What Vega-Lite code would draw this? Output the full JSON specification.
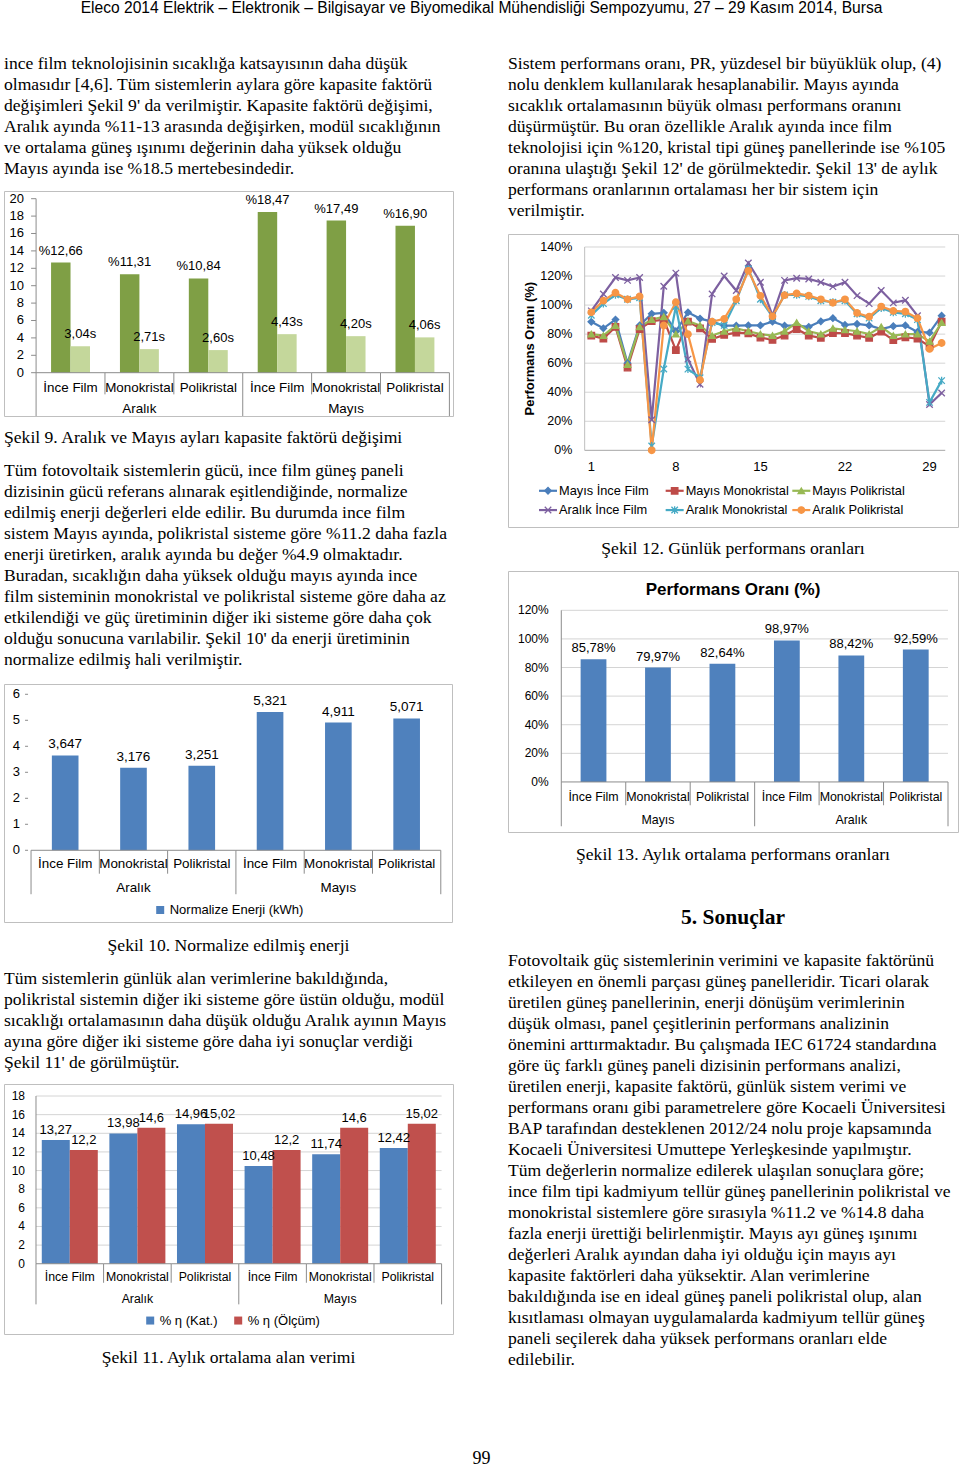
{
"padding": {"left": 3, "top": 0, "right": 2, "bottom": 0},
"background": "#ffffff",
"config": {
  "view": {"stroke": null},
  "font": "Liberation Sans",
  "legend": {"labelFont": "Liberation Sans", "labelColor": "#000000", "labelFontSize": 13}
},
"datasets": {
  "cats": [
    {"k":"A1","ay":"Aralık","tip":"İnce Film"},
    {"k":"A2","ay":"Aralık","tip":"Monokristal"},
    {"k":"A3","ay":"Aralık","tip":"Polikristal"},
    {"k":"M1","ay":"Mayıs","tip":"İnce Film"},
    {"k":"M2","ay":"Mayıs","tip":"Monokristal"},
    {"k":"M3","ay":"Mayıs","tip":"Polikristal"}
  ],
  "d9": [
    {"k":"A1","seri":"kf","v":12.66,"lbl":"%12,66"},
    {"k":"A1","seri":"s","v":3.04,"lbl":"3,04s"},
    {"k":"A2","seri":"kf","v":11.31,"lbl":"%11,31"},
    {"k":"A2","seri":"s","v":2.71,"lbl":"2,71s"},
    {"k":"A3","seri":"kf","v":10.84,"lbl":"%10,84"},
    {"k":"A3","seri":"s","v":2.60,"lbl":"2,60s"},
    {"k":"M1","seri":"kf","v":18.47,"lbl":"%18,47"},
    {"k":"M1","seri":"s","v":4.43,"lbl":"4,43s"},
    {"k":"M2","seri":"kf","v":17.49,"lbl":"%17,49"},
    {"k":"M2","seri":"s","v":4.20,"lbl":"4,20s"},
    {"k":"M3","seri":"kf","v":16.90,"lbl":"%16,90"},
    {"k":"M3","seri":"s","v":4.06,"lbl":"4,06s"}
  ],
  "t9": [{"v":0,"l":"0"},{"v":2,"l":"2"},{"v":4,"l":"4"},{"v":6,"l":"6"},{"v":8,"l":"8"},{"v":10,"l":"10"},{"v":12,"l":"12"},{"v":14,"l":"14"},{"v":16,"l":"16"},{"v":18,"l":"18"},{"v":20,"l":"20"}],
  "d10": [
    {"k":"A1","seri":"Normalize Enerji (kWh)","v":3.647,"lbl":"3,647"},
    {"k":"A2","seri":"Normalize Enerji (kWh)","v":3.176,"lbl":"3,176"},
    {"k":"A3","seri":"Normalize Enerji (kWh)","v":3.251,"lbl":"3,251"},
    {"k":"M1","seri":"Normalize Enerji (kWh)","v":5.321,"lbl":"5,321"},
    {"k":"M2","seri":"Normalize Enerji (kWh)","v":4.911,"lbl":"4,911"},
    {"k":"M3","seri":"Normalize Enerji (kWh)","v":5.071,"lbl":"5,071"}
  ],
  "t10": [{"v":0,"l":"0"},{"v":1,"l":"1"},{"v":2,"l":"2"},{"v":3,"l":"3"},{"v":4,"l":"4"},{"v":5,"l":"5"},{"v":6,"l":"6"}],
  "d11": [
    {"k":"A1","seri":"% η (Kat.)","v":13.27,"lbl":"13,27"},
    {"k":"A1","seri":"% η (Ölçüm)","v":12.2,"lbl":"12,2"},
    {"k":"A2","seri":"% η (Kat.)","v":13.98,"lbl":"13,98"},
    {"k":"A2","seri":"% η (Ölçüm)","v":14.6,"lbl":"14,6"},
    {"k":"A3","seri":"% η (Kat.)","v":14.96,"lbl":"14,96"},
    {"k":"A3","seri":"% η (Ölçüm)","v":15.02,"lbl":"15,02"},
    {"k":"M1","seri":"% η (Kat.)","v":10.48,"lbl":"10,48"},
    {"k":"M1","seri":"% η (Ölçüm)","v":12.2,"lbl":"12,2"},
    {"k":"M2","seri":"% η (Kat.)","v":11.74,"lbl":"11,74"},
    {"k":"M2","seri":"% η (Ölçüm)","v":14.6,"lbl":"14,6"},
    {"k":"M3","seri":"% η (Kat.)","v":12.42,"lbl":"12,42"},
    {"k":"M3","seri":"% η (Ölçüm)","v":15.02,"lbl":"15,02"}
  ],
  "g11": [{"v":0,"l":"0"},{"v":2,"l":"2"},{"v":4,"l":"4"},{"v":6,"l":"6"},{"v":8,"l":"8"},{"v":10,"l":"10"},{"v":12,"l":"12"},{"v":14,"l":"14"},{"v":16,"l":"16"},{"v":18,"l":"18"}],
  "d13": [
    {"k":"M1","v":85.78,"lbl":"85,78%"},
    {"k":"M2","v":79.97,"lbl":"79,97%"},
    {"k":"M3","v":82.64,"lbl":"82,64%"},
    {"k":"A1","v":98.97,"lbl":"98,97%"},
    {"k":"A2","v":88.42,"lbl":"88,42%"},
    {"k":"A3","v":92.59,"lbl":"92,59%"}
  ],
  "g13": [{"v":0,"l":"0%"},{"v":20,"l":"20%"},{"v":40,"l":"40%"},{"v":60,"l":"60%"},{"v":80,"l":"80%"},{"v":100,"l":"100%"},{"v":120,"l":"120%"}],
  "g12": [{"v":0,"l":"0%"},{"v":20,"l":"20%"},{"v":40,"l":"40%"},{"v":60,"l":"60%"},{"v":80,"l":"80%"},{"v":100,"l":"100%"},{"v":120,"l":"120%"},{"v":140,"l":"140%"}],
  "x12": [{"d":1,"l":"1"},{"d":8,"l":"8"},{"d":15,"l":"15"},{"d":22,"l":"22"},{"d":29,"l":"29"}],
  "leg12": [
    {"s":"Mayıs İnce Film","ay":"Mayıs","tip":"İnce Film"},
    {"s":"Mayıs Monokristal","ay":"Mayıs","tip":"Monokristal"},
    {"s":"Mayıs Polikristal","ay":"Mayıs","tip":"Polikristal"},
    {"s":"Aralık İnce Film","ay":"Aralık","tip":"İnce Film"},
    {"s":"Aralık Monokristal","ay":"Aralık","tip":"Monokristal"},
    {"s":"Aralık Polikristal","ay":"Aralık","tip":"Polikristal"}
  ],
  "d12": [
    {"d":1,"s":"Mayıs İnce Film","v":88.5},{"d":2,"s":"Mayıs İnce Film","v":84},{"d":3,"s":"Mayıs İnce Film","v":90},{"d":4,"s":"Mayıs İnce Film","v":60},{"d":5,"s":"Mayıs İnce Film","v":86},{"d":6,"s":"Mayıs İnce Film","v":94},{"d":7,"s":"Mayıs İnce Film","v":94.7},{"d":8,"s":"Mayıs İnce Film","v":82},{"d":9,"s":"Mayıs İnce Film","v":95},{"d":10,"s":"Mayıs İnce Film","v":90.7},
    {"d":11,"s":"Mayıs İnce Film","v":88.6},{"d":12,"s":"Mayıs İnce Film","v":85.8},{"d":13,"s":"Mayıs İnce Film","v":85.8},{"d":14,"s":"Mayıs İnce Film","v":86},{"d":15,"s":"Mayıs İnce Film","v":86},{"d":16,"s":"Mayıs İnce Film","v":88.6},{"d":17,"s":"Mayıs İnce Film","v":85.8},{"d":18,"s":"Mayıs İnce Film","v":85.8},{"d":19,"s":"Mayıs İnce Film","v":85},{"d":20,"s":"Mayıs İnce Film","v":88.8},
    {"d":21,"s":"Mayıs İnce Film","v":91},{"d":22,"s":"Mayıs İnce Film","v":86.3},{"d":23,"s":"Mayıs İnce Film","v":87},{"d":24,"s":"Mayıs İnce Film","v":86},{"d":25,"s":"Mayıs İnce Film","v":83.5},{"d":26,"s":"Mayıs İnce Film","v":85.5},{"d":27,"s":"Mayıs İnce Film","v":86},{"d":28,"s":"Mayıs İnce Film","v":81.5},{"d":29,"s":"Mayıs İnce Film","v":81},{"d":30,"s":"Mayıs İnce Film","v":92.7},
    {"d":1,"s":"Mayıs Monokristal","v":79},{"d":2,"s":"Mayıs Monokristal","v":77},{"d":3,"s":"Mayıs Monokristal","v":85},{"d":4,"s":"Mayıs Monokristal","v":57},{"d":5,"s":"Mayıs Monokristal","v":83.5},{"d":6,"s":"Mayıs Monokristal","v":89},{"d":7,"s":"Mayıs Monokristal","v":90},{"d":8,"s":"Mayıs Monokristal","v":69},{"d":9,"s":"Mayıs Monokristal","v":88.6},{"d":10,"s":"Mayıs Monokristal","v":84},
    {"d":11,"s":"Mayıs Monokristal","v":76.7},{"d":12,"s":"Mayıs Monokristal","v":79.5},{"d":13,"s":"Mayıs Monokristal","v":81},{"d":14,"s":"Mayıs Monokristal","v":80.5},{"d":15,"s":"Mayıs Monokristal","v":77.6},{"d":16,"s":"Mayıs Monokristal","v":76},{"d":17,"s":"Mayıs Monokristal","v":79},{"d":18,"s":"Mayıs Monokristal","v":83.5},{"d":19,"s":"Mayıs Monokristal","v":79},{"d":20,"s":"Mayıs Monokristal","v":77.5},
    {"d":21,"s":"Mayıs Monokristal","v":80.7},{"d":22,"s":"Mayıs Monokristal","v":80.7},{"d":23,"s":"Mayıs Monokristal","v":79},{"d":24,"s":"Mayıs Monokristal","v":77.5},{"d":25,"s":"Mayıs Monokristal","v":81.7},{"d":26,"s":"Mayıs Monokristal","v":75.9},{"d":27,"s":"Mayıs Monokristal","v":77.8},{"d":28,"s":"Mayıs Monokristal","v":77},{"d":29,"s":"Mayıs Monokristal","v":71.6},{"d":30,"s":"Mayıs Monokristal","v":88.6},
    {"d":1,"s":"Mayıs Polikristal","v":80},{"d":2,"s":"Mayıs Polikristal","v":79},{"d":3,"s":"Mayıs Polikristal","v":86},{"d":4,"s":"Mayıs Polikristal","v":59},{"d":5,"s":"Mayıs Polikristal","v":85},{"d":6,"s":"Mayıs Polikristal","v":90},{"d":7,"s":"Mayıs Polikristal","v":92},{"d":8,"s":"Mayıs Polikristal","v":80},{"d":9,"s":"Mayıs Polikristal","v":89},{"d":10,"s":"Mayıs Polikristal","v":86},
    {"d":11,"s":"Mayıs Polikristal","v":79},{"d":12,"s":"Mayıs Polikristal","v":82},{"d":13,"s":"Mayıs Polikristal","v":84},{"d":14,"s":"Mayıs Polikristal","v":82},{"d":15,"s":"Mayıs Polikristal","v":80},{"d":16,"s":"Mayıs Polikristal","v":79},{"d":17,"s":"Mayıs Polikristal","v":82},{"d":18,"s":"Mayıs Polikristal","v":88},{"d":19,"s":"Mayıs Polikristal","v":82},{"d":20,"s":"Mayıs Polikristal","v":80},
    {"d":21,"s":"Mayıs Polikristal","v":84},{"d":22,"s":"Mayıs Polikristal","v":83},{"d":23,"s":"Mayıs Polikristal","v":82},{"d":24,"s":"Mayıs Polikristal","v":80},{"d":25,"s":"Mayıs Polikristal","v":85},{"d":26,"s":"Mayıs Polikristal","v":79},{"d":27,"s":"Mayıs Polikristal","v":80},{"d":28,"s":"Mayıs Polikristal","v":80},{"d":29,"s":"Mayıs Polikristal","v":75},{"d":30,"s":"Mayıs Polikristal","v":88},
    {"d":1,"s":"Aralık İnce Film","v":96},{"d":2,"s":"Aralık İnce Film","v":107.6},{"d":3,"s":"Aralık İnce Film","v":119},{"d":4,"s":"Aralık İnce Film","v":117},{"d":5,"s":"Aralık İnce Film","v":119},{"d":6,"s":"Aralık İnce Film","v":21},{"d":7,"s":"Aralık İnce Film","v":113},{"d":8,"s":"Aralık İnce Film","v":122},{"d":9,"s":"Aralık İnce Film","v":62.8},{"d":10,"s":"Aralık İnce Film","v":45.5},
    {"d":11,"s":"Aralık İnce Film","v":107.7},{"d":12,"s":"Aralık İnce Film","v":120},{"d":13,"s":"Aralık İnce Film","v":110},{"d":14,"s":"Aralık İnce Film","v":129},{"d":15,"s":"Aralık İnce Film","v":115.7},{"d":16,"s":"Aralık İnce Film","v":92.7},{"d":17,"s":"Aralık İnce Film","v":117},{"d":18,"s":"Aralık İnce Film","v":118.5},{"d":19,"s":"Aralık İnce Film","v":118},{"d":20,"s":"Aralık İnce Film","v":115.7},
    {"d":21,"s":"Aralık İnce Film","v":112.7},{"d":22,"s":"Aralık İnce Film","v":115.7},{"d":23,"s":"Aralık İnce Film","v":106.5},{"d":24,"s":"Aralık İnce Film","v":101},{"d":25,"s":"Aralık İnce Film","v":110},{"d":26,"s":"Aralık İnce Film","v":101.5},{"d":27,"s":"Aralık İnce Film","v":103.3},{"d":28,"s":"Aralık İnce Film","v":92.7},{"d":29,"s":"Aralık İnce Film","v":31.6},{"d":30,"s":"Aralık İnce Film","v":39.5},
    {"d":1,"s":"Aralık Monokristal","v":93},{"d":2,"s":"Aralık Monokristal","v":101},{"d":3,"s":"Aralık Monokristal","v":107},{"d":4,"s":"Aralık Monokristal","v":104},{"d":5,"s":"Aralık Monokristal","v":105},{"d":6,"s":"Aralık Monokristal","v":3},{"d":7,"s":"Aralık Monokristal","v":56},{"d":8,"s":"Aralık Monokristal","v":99},{"d":9,"s":"Aralık Monokristal","v":55.9},{"d":10,"s":"Aralık Monokristal","v":50},
    {"d":11,"s":"Aralık Monokristal","v":88},{"d":12,"s":"Aralık Monokristal","v":86},{"d":13,"s":"Aralık Monokristal","v":103},{"d":14,"s":"Aralık Monokristal","v":125},{"d":15,"s":"Aralık Monokristal","v":104},{"d":16,"s":"Aralık Monokristal","v":92},{"d":17,"s":"Aralık Monokristal","v":107},{"d":18,"s":"Aralık Monokristal","v":107},{"d":19,"s":"Aralık Monokristal","v":106},{"d":20,"s":"Aralık Monokristal","v":103},
    {"d":21,"s":"Aralık Monokristal","v":102},{"d":22,"s":"Aralık Monokristal","v":103},{"d":23,"s":"Aralık Monokristal","v":94},{"d":24,"s":"Aralık Monokristal","v":91},{"d":25,"s":"Aralık Monokristal","v":98},{"d":26,"s":"Aralık Monokristal","v":95},{"d":27,"s":"Aralık Monokristal","v":94},{"d":28,"s":"Aralık Monokristal","v":90},{"d":29,"s":"Aralık Monokristal","v":33},{"d":30,"s":"Aralık Monokristal","v":48},
    {"d":1,"s":"Aralık Polikristal","v":95},{"d":2,"s":"Aralık Polikristal","v":103},{"d":3,"s":"Aralık Polikristal","v":108.5},{"d":4,"s":"Aralık Polikristal","v":104},{"d":5,"s":"Aralık Polikristal","v":106},{"d":6,"s":"Aralık Polikristal","v":0},{"d":7,"s":"Aralık Polikristal","v":86},{"d":8,"s":"Aralık Polikristal","v":102},{"d":9,"s":"Aralık Polikristal","v":80},{"d":10,"s":"Aralık Polikristal","v":48.5},
    {"d":11,"s":"Aralık Polikristal","v":88.6},{"d":12,"s":"Aralık Polikristal","v":90.5},{"d":13,"s":"Aralık Polikristal","v":104},{"d":14,"s":"Aralık Polikristal","v":123.6},{"d":15,"s":"Aralık Polikristal","v":106.4},{"d":16,"s":"Aralık Polikristal","v":92.3},{"d":17,"s":"Aralık Polikristal","v":106.8},{"d":18,"s":"Aralık Polikristal","v":108},{"d":19,"s":"Aralık Polikristal","v":106.5},{"d":20,"s":"Aralık Polikristal","v":104},
    {"d":21,"s":"Aralık Polikristal","v":101.6},{"d":22,"s":"Aralık Polikristal","v":104},{"d":23,"s":"Aralık Polikristal","v":94.6},{"d":24,"s":"Aralık Polikristal","v":92},{"d":25,"s":"Aralık Polikristal","v":99},{"d":26,"s":"Aralık Polikristal","v":96},{"d":27,"s":"Aralık Polikristal","v":95.5},{"d":28,"s":"Aralık Polikristal","v":91},{"d":29,"s":"Aralık Polikristal","v":69.8},{"d":30,"s":"Aralık Polikristal","v":73.9}
  ]
},
"spacing": 0,
"resolve": {"scale": {"color": "independent", "xOffset": "independent", "shape": "independent", "stroke": "independent"}, "legend": {"color": "independent", "shape": "independent", "stroke": "independent"}},
"vconcat": [
 {"width": 955, "height": 16,
  "data": {"values": [{"t": "Eleco 2014 Elektrik – Elektronik – Bilgisayar ve Biyomedikal Mühendisliği Sempozyumu, 27 – 29 Kasım 2014, Bursa"}]},
  "mark": {"type": "text", "align": "center", "baseline": "middle", "font": "Liberation Sans", "fontSize": 15.6, "color": "#000000"},
  "encoding": {"text": {"field": "t"}}},
 {"hconcat": [
   {"vconcat": [
     {"width": 449, "height": 174,
      "data": {"values": [
        {"i":0,"t":"ince film teknolojisinin sıcaklığa katsayısının daha düşük"},
        {"i":1,"t":"olmasıdır [4,6]. Tüm sistemlerin aylara göre kapasite faktörü"},
        {"i":2,"t":"değişimleri Şekil 9' da verilmiştir. Kapasite faktörü değişimi,"},
        {"i":3,"t":"Aralık ayında %11-13 arasında değişirken, modül sıcaklığının"},
        {"i":4,"t":"ve ortalama güneş ışınımı değerinin daha yüksek olduğu"},
        {"i":5,"t":"Mayıs ayında ise %18.5 mertebesindedir."}]},
      "mark": {"type": "text", "align": "left", "baseline": "middle", "font": "Liberation Serif", "fontSize": 17.6, "color": "#000000"},
      "encoding": {
        "x": {"datum": 0, "type": "quantitative", "scale": {"domain": [0, 1]}, "axis": null},
        "y": {"field": "i", "type": "quantitative", "scale": {"domain": [-2.238, 6.048], "reverse": true, "nice": false, "zero": false}, "axis": null},
        "text": {"field": "t"}}},
     {"width": 449, "height": 225,
      "view": {"stroke": "#BFBFBF"},
      "layer": [
        {"data": {"name": "d9"}, "mark": {"type": "bar"},
         "encoding": {
           "x": {"field": "k", "type": "nominal", "scale": {"domain": ["A1","A2","A3","M1","M2","M3"], "paddingInner": 0, "paddingOuter": 0.259, "align": 0.899}, "axis": null},
           "xOffset": {"field": "seri", "type": "nominal", "scale": {"domain": ["kf","s"], "paddingInner": 0, "paddingOuter": 0.77}},
           "y": {"field": "v", "type": "quantitative", "scale": {"domain": [-4.977, 20.885], "nice": false, "zero": false}, "axis": null},
           "y2": {"datum": 0},
           "color": {"field": "seri", "type": "nominal", "scale": {"domain": ["kf","s"], "range": ["#7F9F45","#C4D79B"]}, "legend": null}}},
        {"data": {"name": "d9"}, "mark": {"type": "text", "baseline": "bottom", "dy": -5, "font": "Liberation Sans", "fontSize": 13, "color": "#000000"},
         "encoding": {
           "x": {"field": "k", "type": "nominal", "axis": null},
           "xOffset": {"field": "seri", "type": "nominal"},
           "y": {"field": "v", "type": "quantitative", "axis": null},
           "text": {"field": "lbl"}}},
        {"data": {"name": "t9"}, "mark": {"type": "text", "align": "right", "baseline": "middle", "dx": -12, "font": "Liberation Sans", "fontSize": 13, "color": "#000000"},
         "encoding": {"x": {"datum": "A1", "type": "nominal", "bandPosition": 0, "axis": null}, "y": {"field": "v", "type": "quantitative", "axis": null}, "text": {"field": "l"}}},
        {"data": {"name": "t9"}, "mark": {"type": "rule", "color": "#8C8C8C", "xOffset": -5},
         "encoding": {"x": {"datum": "A1", "type": "nominal", "bandPosition": 0, "axis": null}, "x2": {"datum": "A1", "bandPosition": 0}, "y": {"field": "v", "type": "quantitative", "axis": null}}},
        {"data": {"name": "cats"}, "mark": {"type": "rule", "color": "#8C8C8C"},
         "encoding": {"x": {"field": "k", "type": "nominal", "bandPosition": 0, "axis": null}, "x2": {"field": "k", "bandPosition": 1}, "y": {"datum": 0, "axis": null}}},
        {"data": {"name": "cats"}, "transform": [{"filter": {"field": "k", "oneOf": ["A2","A3","M2","M3"]}}], "mark": {"type": "rule", "color": "#8C8C8C"},
         "encoding": {"x": {"field": "k", "type": "nominal", "bandPosition": 0, "axis": null}, "y": {"datum": 0, "axis": null}, "y2": {"datum": -2.49}}},
        {"data": {"name": "cats"}, "transform": [{"filter": {"field": "k", "oneOf": ["A1","M1"]}}], "mark": {"type": "rule", "color": "#8C8C8C"},
         "encoding": {"x": {"field": "k", "type": "nominal", "bandPosition": 0, "axis": null}, "y": {"datum": 0, "axis": null}, "y2": {"datum": -4.977}}},
        {"data": {"name": "cats"}, "transform": [{"filter": {"field": "k", "equal": "M3"}}], "mark": {"type": "rule", "color": "#8C8C8C"},
         "encoding": {"x": {"field": "k", "type": "nominal", "bandPosition": 1, "axis": null}, "y": {"datum": 0, "axis": null}, "y2": {"datum": -4.977}}},
        {"data": {"name": "cats"}, "transform": [{"filter": {"field": "k", "equal": "A1"}}], "mark": {"type": "rule", "color": "#8C8C8C"},
         "encoding": {"x": {"field": "k", "type": "nominal", "bandPosition": 0, "axis": null}, "y": {"datum": 0, "axis": null}, "y2": {"datum": 20}}},
        {"data": {"name": "cats"}, "mark": {"type": "text", "baseline": "middle", "font": "Liberation Sans", "fontSize": 13.4, "color": "#000000"},
         "encoding": {"x": {"field": "k", "type": "nominal", "axis": null}, "y": {"datum": -1.73, "axis": null}, "text": {"field": "tip"}}},
        {"data": {"name": "cats"}, "transform": [{"filter": {"field": "k", "oneOf": ["A2","M2"]}}], "mark": {"type": "text", "baseline": "middle", "font": "Liberation Sans", "fontSize": 13.4, "color": "#000000"},
         "encoding": {"x": {"field": "k", "type": "nominal", "axis": null}, "y": {"datum": -4.14, "axis": null}, "text": {"field": "ay"}}}
      ]},
     {"width": 449, "height": 44,
      "data": {"values": [{"t": "Şekil 9. Aralık ve Mayıs ayları kapasite faktörü değişimi"}]},
      "mark": {"type": "text", "align": "left", "baseline": "middle", "font": "Liberation Serif", "fontSize": 17.6, "color": "#000000"},
      "encoding": {"x": {"datum": 0, "type": "quantitative", "scale": {"domain": [0, 1]}, "axis": null}, "text": {"field": "t"}}},
     {"width": 449, "height": 224,
      "data": {"values": [
        {"i":0,"t":"Tüm fotovoltaik sistemlerin gücü, ince film güneş paneli"},
        {"i":1,"t":"dizisinin gücü referans alınarak eşitlendiğinde, normalize"},
        {"i":2,"t":"edilmiş enerji değerleri elde edilir. Bu durumda ince film"},
        {"i":3,"t":"sistem Mayıs ayında, polikristal sisteme göre %11.2 daha fazla"},
        {"i":4,"t":"enerji üretirken, aralık ayında bu değer %4.9 olmaktadır."},
        {"i":5,"t":"Buradan, sıcaklığın daha yüksek olduğu mayıs ayında ince"},
        {"i":6,"t":"film sisteminin monokristal ve polikristal sisteme göre daha az"},
        {"i":7,"t":"etkilendiği ve güç üretiminin diğer iki sisteme göre daha çok"},
        {"i":8,"t":"olduğu sonucuna varılabilir. Şekil 10' da enerji üretiminin"},
        {"i":9,"t":"normalize edilmiş hali verilmiştir."}]},
      "mark": {"type": "text", "align": "left", "baseline": "middle", "font": "Liberation Serif", "fontSize": 17.6, "color": "#000000"},
      "encoding": {
        "x": {"datum": 0, "type": "quantitative", "scale": {"domain": [0, 1]}, "axis": null},
        "y": {"field": "i", "type": "quantitative", "scale": {"domain": [-0.524, 10.143], "reverse": true, "nice": false, "zero": false}, "axis": null},
        "text": {"field": "t"}}},
     {"width": 448, "height": 238,
      "view": {"stroke": "#BFBFBF"},
      "layer": [
        {"data": {"name": "d10"}, "mark": {"type": "bar", "width": {"band": 0.39}},
         "encoding": {
           "x": {"field": "k", "type": "nominal", "scale": {"domain": ["A1","A2","A3","M1","M2","M3"], "paddingInner": 0, "paddingOuter": 0.28, "align": 0.707}, "axis": null},
           "y": {"field": "v", "type": "quantitative", "scale": {"domain": [-2.758, 6.396], "nice": false, "zero": false}, "axis": null},
           "y2": {"datum": 0},
           "color": {"field": "seri", "type": "nominal", "scale": {"domain": ["Normalize Enerji (kWh)"], "range": ["#4F81BD"]}, "legend": {"orient": "none", "legendX": 149.7, "legendY": 219.5, "title": null, "symbolType": "square", "symbolSize": 64, "symbolStrokeWidth": 0, "labelFontSize": 13, "labelOffset": 3, "padding": 0}}}},
        {"data": {"name": "d10"}, "mark": {"type": "text", "baseline": "bottom", "dy": -4, "font": "Liberation Sans", "fontSize": 13.5, "color": "#000000"},
         "encoding": {"x": {"field": "k", "type": "nominal", "axis": null}, "y": {"field": "v", "type": "quantitative", "axis": null}, "text": {"field": "lbl"}}},
        {"data": {"name": "t10"}, "mark": {"type": "text", "align": "right", "baseline": "middle", "dx": -11, "font": "Liberation Sans", "fontSize": 13, "color": "#000000"},
         "encoding": {"x": {"datum": "A1", "type": "nominal", "bandPosition": 0, "axis": null}, "y": {"field": "v", "type": "quantitative", "axis": null}, "text": {"field": "l"}}},
        {"data": {"name": "t10"}, "mark": {"type": "rule", "color": "#8C8C8C", "xOffset": -6, "x2Offset": -3},
         "encoding": {"x": {"datum": "A1", "type": "nominal", "bandPosition": 0, "axis": null}, "x2": {"datum": "A1", "bandPosition": 0}, "y": {"field": "v", "type": "quantitative", "axis": null}}},
        {"data": {"name": "cats"}, "mark": {"type": "rule", "color": "#8C8C8C"},
         "encoding": {"x": {"field": "k", "type": "nominal", "bandPosition": 0, "axis": null}, "x2": {"field": "k", "bandPosition": 1}, "y": {"datum": 0, "axis": null}}},
        {"data": {"name": "cats"}, "transform": [{"filter": {"field": "k", "oneOf": ["A2","A3","M2","M3"]}}], "mark": {"type": "rule", "color": "#8C8C8C"},
         "encoding": {"x": {"field": "k", "type": "nominal", "bandPosition": 0, "axis": null}, "y": {"datum": 0, "axis": null}, "y2": {"datum": -0.9}}},
        {"data": {"name": "cats"}, "transform": [{"filter": {"field": "k", "oneOf": ["A1","M1"]}}], "mark": {"type": "rule", "color": "#8C8C8C"},
         "encoding": {"x": {"field": "k", "type": "nominal", "bandPosition": 0, "axis": null}, "y": {"datum": 0, "axis": null}, "y2": {"datum": -1.69}}},
        {"data": {"name": "cats"}, "transform": [{"filter": {"field": "k", "equal": "M3"}}], "mark": {"type": "rule", "color": "#8C8C8C"},
         "encoding": {"x": {"field": "k", "type": "nominal", "bandPosition": 1, "axis": null}, "y": {"datum": 0, "axis": null}, "y2": {"datum": -1.69}}},
        {"data": {"name": "cats"}, "mark": {"type": "text", "baseline": "middle", "font": "Liberation Sans", "fontSize": 13.4, "color": "#000000"},
         "encoding": {"x": {"field": "k", "type": "nominal", "axis": null}, "y": {"datum": -0.54, "axis": null}, "text": {"field": "tip"}}},
        {"data": {"name": "cats"}, "transform": [{"filter": {"field": "k", "oneOf": ["A2","M2"]}}], "mark": {"type": "text", "baseline": "middle", "font": "Liberation Sans", "fontSize": 13.4, "color": "#000000"},
         "encoding": {"x": {"field": "k", "type": "nominal", "axis": null}, "y": {"datum": -1.44, "axis": null}, "text": {"field": "ay"}}}
      ]},
     {"width": 449, "height": 48,
      "data": {"values": [{"t": "Şekil 10. Normalize edilmiş enerji"}]},
      "mark": {"type": "text", "align": "center", "baseline": "middle", "font": "Liberation Serif", "fontSize": 17.6, "color": "#000000"},
      "encoding": {"text": {"field": "t"}}},
     {"width": 449, "height": 114,
      "data": {"values": [
        {"i":0,"t":"Tüm sistemlerin günlük alan verimlerine bakıldığında,"},
        {"i":1,"t":"polikristal sistemin diğer iki sisteme göre üstün olduğu, modül"},
        {"i":2,"t":"sıcaklığı ortalamasının daha düşük olduğu Aralık ayının Mayıs"},
        {"i":3,"t":"ayına göre diğer iki sisteme göre daha iyi sonuçlar verdiği"},
        {"i":4,"t":"Şekil 11' de görülmüştür."}]},
      "mark": {"type": "text", "align": "left", "baseline": "middle", "font": "Liberation Serif", "fontSize": 17.6, "color": "#000000"},
      "encoding": {
        "x": {"datum": 0, "type": "quantitative", "scale": {"domain": [0, 1]}, "axis": null},
        "y": {"field": "i", "type": "quantitative", "scale": {"domain": [-0.4286, 5.0], "reverse": true, "nice": false, "zero": false}, "axis": null},
        "text": {"field": "t"}}},
     {"width": 449, "height": 250,
      "view": {"stroke": "#BFBFBF"},
      "layer": [
        {"data": {"name": "g11"}, "transform": [{"filter": "datum.v > 0"}], "mark": {"type": "rule", "color": "#D4D4D4"},
         "encoding": {"x": {"datum": "A1", "type": "nominal", "bandPosition": 0, "axis": null}, "x2": {"datum": "M3", "bandPosition": 1}, "y": {"field": "v", "type": "quantitative", "axis": null}}},
        {"data": {"name": "d11"}, "mark": {"type": "bar"},
         "encoding": {
           "x": {"field": "k", "type": "nominal", "scale": {"domain": ["A1","A2","A3","M1","M2","M3"], "paddingInner": 0, "paddingOuter": 0.321, "align": 0.737}, "axis": null},
           "xOffset": {"field": "seri", "type": "nominal", "scale": {"domain": ["% η (Kat.)","% η (Ölçüm)"], "paddingInner": 0, "paddingOuter": 0.207}},
           "y": {"field": "v", "type": "quantitative", "scale": {"domain": [-7.54, 19.29], "nice": false, "zero": false}, "axis": null},
           "y2": {"datum": 0},
           "color": {"field": "seri", "type": "nominal", "scale": {"domain": ["% η (Kat.)","% η (Ölçüm)"], "range": ["#4F81BD","#C0504D"]}, "legend": {"orient": "none", "legendX": 139.7, "legendY": 229.8, "direction": "horizontal", "title": null, "symbolType": "square", "symbolSize": 64, "symbolStrokeWidth": 0, "labelFontSize": 13, "labelOffset": 3, "columnPadding": 14, "padding": 0}}}},
        {"data": {"name": "d11"}, "mark": {"type": "text", "baseline": "bottom", "dy": -3, "font": "Liberation Sans", "fontSize": 13, "color": "#000000"},
         "encoding": {
           "x": {"field": "k", "type": "nominal", "axis": null},
           "xOffset": {"field": "seri", "type": "nominal"},
           "y": {"field": "v", "type": "quantitative", "axis": null},
           "text": {"field": "lbl"}}},
        {"data": {"name": "g11"}, "mark": {"type": "text", "align": "right", "baseline": "middle", "dx": -11, "font": "Liberation Sans", "fontSize": 12, "color": "#000000"},
         "encoding": {"x": {"datum": "A1", "type": "nominal", "bandPosition": 0, "axis": null}, "y": {"field": "v", "type": "quantitative", "axis": null}, "text": {"field": "l"}}},
        {"data": {"name": "cats"}, "mark": {"type": "rule", "color": "#8C8C8C"},
         "encoding": {"x": {"field": "k", "type": "nominal", "bandPosition": 0, "axis": null}, "x2": {"field": "k", "bandPosition": 1}, "y": {"datum": 0, "axis": null}}},
        {"data": {"name": "cats"}, "transform": [{"filter": {"field": "k", "oneOf": ["A2","A3","M2","M3"]}}], "mark": {"type": "rule", "color": "#8C8C8C"},
         "encoding": {"x": {"field": "k", "type": "nominal", "bandPosition": 0, "axis": null}, "y": {"datum": 0, "axis": null}, "y2": {"datum": -2.04}}},
        {"data": {"name": "cats"}, "transform": [{"filter": {"field": "k", "oneOf": ["A1","M1"]}}], "mark": {"type": "rule", "color": "#8C8C8C"},
         "encoding": {"x": {"field": "k", "type": "nominal", "bandPosition": 0, "axis": null}, "y": {"datum": 0, "axis": null}, "y2": {"datum": -4.36}}},
        {"data": {"name": "cats"}, "transform": [{"filter": {"field": "k", "equal": "M3"}}], "mark": {"type": "rule", "color": "#8C8C8C"},
         "encoding": {"x": {"field": "k", "type": "nominal", "bandPosition": 1, "axis": null}, "y": {"datum": 0, "axis": null}, "y2": {"datum": -4.36}}},
        {"data": {"name": "cats"}, "transform": [{"filter": {"field": "k", "equal": "A1"}}], "mark": {"type": "rule", "color": "#8C8C8C"},
         "encoding": {"x": {"field": "k", "type": "nominal", "bandPosition": 0, "axis": null}, "y": {"datum": 0, "axis": null}, "y2": {"datum": 18}}},
        {"data": {"name": "cats"}, "mark": {"type": "text", "baseline": "middle", "font": "Liberation Sans", "fontSize": 12.3, "color": "#000000"},
         "encoding": {"x": {"field": "k", "type": "nominal", "axis": null}, "y": {"datum": -1.43, "axis": null}, "text": {"field": "tip"}}},
        {"data": {"name": "cats"}, "transform": [{"filter": {"field": "k", "oneOf": ["A2","M2"]}}], "mark": {"type": "text", "baseline": "middle", "font": "Liberation Sans", "fontSize": 12.3, "color": "#000000"},
         "encoding": {"x": {"field": "k", "type": "nominal", "axis": null}, "y": {"datum": -3.82, "axis": null}, "text": {"field": "ay"}}}
      ]},
     {"width": 449, "height": 48,
      "data": {"values": [{"t": "Şekil 11. Aylık ortalama alan verimi"}]},
      "mark": {"type": "text", "align": "center", "baseline": "middle", "font": "Liberation Serif", "fontSize": 17.6, "color": "#000000"},
      "encoding": {"text": {"field": "t"}}}
   ], "spacing": 0, "bounds": "flush",
   "resolve": {"scale": {"color": "independent", "xOffset": "independent", "shape": "independent", "stroke": "independent"}, "legend": {"color": "independent", "shape": "independent", "stroke": "independent"}}},
   {"vconcat": [
     {"width": 450, "height": 217,
      "data": {"values": [
        {"i":0,"t":"Sistem performans oranı, PR, yüzdesel bir büyüklük olup, (4)"},
        {"i":1,"t":"nolu denklem kullanılarak hesaplanabilir. Mayıs ayında"},
        {"i":2,"t":"sıcaklık ortalamasının büyük olması  performans oranını"},
        {"i":3,"t":"düşürmüştür. Bu oran özellikle Aralık ayında ince film"},
        {"i":4,"t":"teknolojisi için %120, kristal tipi güneş panellerinde ise %105"},
        {"i":5,"t":"oranına ulaştığı Şekil 12' de görülmektedir. Şekil 13' de aylık"},
        {"i":6,"t":"performans oranlarının ortalaması her bir sistem için"},
        {"i":7,"t":"verilmiştir."}]},
      "mark": {"type": "text", "align": "left", "baseline": "middle", "font": "Liberation Serif", "fontSize": 17.6, "color": "#000000"},
      "encoding": {
        "x": {"datum": 0, "type": "quantitative", "scale": {"domain": [0, 1]}, "axis": null},
        "y": {"field": "i", "type": "quantitative", "scale": {"domain": [-2.238, 8.095], "reverse": true, "nice": false, "zero": false}, "axis": null},
        "text": {"field": "t"}}},
     {"width": 450, "height": 293,
      "view": {"stroke": "#BFBFBF"},
      "resolve": {"scale": {"x": "independent"}},
      "layer": [
       {"layer": [
        {"data": {"name": "g12"}, "transform": [{"filter": "datum.v > 0"}], "mark": {"type": "rule", "color": "#D4D4D4"},
         "encoding": {"x": {"datum": 0.45, "axis": null}, "x2": {"datum": 30.3}, "y": {"field": "v", "type": "quantitative", "axis": null}}},
        {"data": {"values": [{}]}, "mark": {"type": "rule", "color": "#A6A6A6"},
         "encoding": {"x": {"datum": 0.45, "axis": null}, "x2": {"datum": 30.3}, "y": {"datum": 0, "axis": null}}},
        {"data": {"values": [{}]}, "mark": {"type": "rule", "color": "#BFBFBF"},
         "encoding": {"x": {"datum": 0.45, "axis": null}, "y": {"datum": 0, "axis": null}, "y2": {"datum": 140}}},
        {"data": {"name": "g12"}, "mark": {"type": "text", "align": "right", "baseline": "middle", "dx": -12.4, "font": "Liberation Sans", "fontSize": 12.5, "color": "#000000"},
         "encoding": {"x": {"datum": 0.45, "axis": null}, "y": {"field": "v", "type": "quantitative", "axis": null}, "text": {"field": "l"}}},
        {"data": {"name": "x12"}, "mark": {"type": "text", "align": "center", "baseline": "middle", "font": "Liberation Sans", "fontSize": 13, "color": "#000000"},
         "encoding": {"x": {"field": "d", "type": "quantitative", "axis": null}, "y": {"datum": -11.8, "axis": null}, "text": {"field": "l"}}},
        {"data": {"name": "d12"}, "mark": {"type": "line", "strokeWidth": 2.2},
         "encoding": {
           "x": {"field": "d", "type": "quantitative", "scale": {"domain": [-5.896, 31.356], "nice": false, "zero": false}, "axis": null},
           "y": {"field": "v", "type": "quantitative", "scale": {"domain": [-52.8, 148.95], "nice": false, "zero": false}, "axis": null},
           "color": {"field": "s", "type": "nominal", "scale": {"domain": ["Mayıs İnce Film","Mayıs Monokristal","Mayıs Polikristal","Aralık İnce Film","Aralık Monokristal","Aralık Polikristal"], "range": ["#4A7EBB","#BE4B48","#98B954","#7D60A0","#46AAC5","#F79646"]}, "legend": null}}},
        {"data": {"name": "d12"}, "mark": {"type": "point", "filled": true, "size": 42, "opacity": 1, "strokeWidth": 1.3},
         "encoding": {
           "x": {"field": "d", "type": "quantitative", "axis": null},
           "y": {"field": "v", "type": "quantitative", "axis": null},
           "color": {"field": "s", "type": "nominal", "legend": null},
           "shape": {"field": "s", "type": "nominal", "scale": {"domain": ["Mayıs İnce Film","Mayıs Monokristal","Mayıs Polikristal","Aralık İnce Film","Aralık Monokristal","Aralık Polikristal"], "range": ["diamond","square","triangle-up","M-1,-1L1,1M-1,1L1,-1","M-1,-1L1,1M-1,1L1,-1M0,-1.2L0,1.2","circle"]}, "legend": null},
           "stroke": {"field": "s", "type": "nominal", "scale": {"domain": ["Mayıs İnce Film","Mayıs Monokristal","Mayıs Polikristal","Aralık İnce Film","Aralık Monokristal","Aralık Polikristal"], "range": ["#4A7EBB","#BE4B48","#98B954","#7D60A0","#46AAC5","#F79646"]}, "legend": null}}},
        {"data": {"values": [{"t": "Performans Oranı (%)"}]}, "mark": {"type": "text", "angle": 270, "align": "center", "baseline": "middle", "font": "Liberation Sans", "fontWeight": "bold", "fontSize": 13, "color": "#000000"},
         "encoding": {"x": {"datum": -4.07, "axis": null}, "y": {"datum": 70, "axis": null}, "text": {"field": "t"}}}
       ]},
       {"data": {"name": "leg12"},
        "transform": [{"filter": {"field": "ay", "equal": "Mayıs"}}],
        "encoding": {
          "x": {"field": "tip", "type": "nominal", "scale": {"type": "point", "domain": ["İnce Film","Monokristal","Polikristal"], "padding": 0.7766, "align": 0.2034}, "axis": null},
          "y": {"datum": -27.86, "axis": null}},
        "layer": [
          {"mark": {"type": "rule", "strokeWidth": 2.2, "xOffset": -9, "x2Offset": 9},
           "encoding": {"x2": {"field": "tip"}, "color": {"field": "s", "type": "nominal", "legend": null}}},
          {"mark": {"type": "point", "filled": true, "size": 42, "opacity": 1, "strokeWidth": 1.3},
           "encoding": {"color": {"field": "s", "type": "nominal", "legend": null}, "shape": {"field": "s", "type": "nominal", "legend": null}, "stroke": {"field": "s", "type": "nominal", "legend": null}}},
          {"mark": {"type": "text", "align": "left", "baseline": "middle", "dx": 11, "font": "Liberation Sans", "fontSize": 12.8, "color": "#000000"},
           "encoding": {"text": {"field": "s"}}}
        ]},
       {"data": {"name": "leg12"},
        "transform": [{"filter": {"field": "ay", "equal": "Aralık"}}],
        "encoding": {
          "x": {"field": "tip", "type": "nominal", "scale": {"type": "point", "domain": ["İnce Film","Monokristal","Polikristal"], "padding": 0.7766, "align": 0.2034}, "axis": null},
          "y": {"datum": -41.14, "axis": null}},
        "layer": [
          {"mark": {"type": "rule", "strokeWidth": 2.2, "xOffset": -9, "x2Offset": 9},
           "encoding": {"x2": {"field": "tip"}, "color": {"field": "s", "type": "nominal", "legend": null}}},
          {"mark": {"type": "point", "filled": true, "size": 42, "opacity": 1, "strokeWidth": 1.3},
           "encoding": {"color": {"field": "s", "type": "nominal", "legend": null}, "shape": {"field": "s", "type": "nominal", "legend": null}, "stroke": {"field": "s", "type": "nominal", "legend": null}}},
          {"mark": {"type": "text", "align": "left", "baseline": "middle", "dx": 11, "font": "Liberation Sans", "fontSize": 12.8, "color": "#000000"},
           "encoding": {"text": {"field": "s"}}}
        ]}
      ]},
     {"width": 450, "height": 44,
      "data": {"values": [{"t": "Şekil 12. Günlük performans oranları"}]},
      "mark": {"type": "text", "align": "center", "baseline": "middle", "font": "Liberation Serif", "fontSize": 17.6, "color": "#000000"},
      "encoding": {"text": {"field": "t"}}},
     {"width": 450, "height": 261,
      "view": {"stroke": "#BFBFBF"},
      "layer": [
        {"data": {"name": "g13"}, "transform": [{"filter": "datum.v > 0"}], "mark": {"type": "rule", "color": "#D4D4D4"},
         "encoding": {"x": {"datum": "M1", "type": "nominal", "bandPosition": 0, "axis": null}, "x2": {"datum": "A3", "bandPosition": 1}, "y": {"field": "v", "type": "quantitative", "axis": null}}},
        {"data": {"name": "d13"}, "mark": {"type": "bar", "width": {"band": 0.4}, "color": "#4F81BD"},
         "encoding": {
           "x": {"field": "k", "type": "nominal", "scale": {"domain": ["M1","M2","M3","A1","A2","A3"], "paddingInner": 0, "paddingOuter": 0.491, "align": 0.842}, "axis": null},
           "y": {"field": "v", "type": "quantitative", "scale": {"domain": [-35.0, 147.48], "nice": false, "zero": false}, "axis": null},
           "y2": {"datum": 0}}},
        {"data": {"name": "d13"}, "mark": {"type": "text", "baseline": "bottom", "dy": -4, "font": "Liberation Sans", "fontSize": 13, "color": "#000000"},
         "encoding": {"x": {"field": "k", "type": "nominal", "axis": null}, "y": {"field": "v", "type": "quantitative", "axis": null}, "text": {"field": "lbl"}}},
        {"data": {"name": "g13"}, "mark": {"type": "text", "align": "right", "baseline": "middle", "dx": -12.6, "font": "Liberation Sans", "fontSize": 12, "color": "#000000"},
         "encoding": {"x": {"datum": "M1", "type": "nominal", "bandPosition": 0, "axis": null}, "y": {"field": "v", "type": "quantitative", "axis": null}, "text": {"field": "l"}}},
        {"data": {"name": "cats"}, "mark": {"type": "rule", "color": "#8C8C8C"},
         "encoding": {"x": {"field": "k", "type": "nominal", "bandPosition": 0, "axis": null}, "x2": {"field": "k", "bandPosition": 1}, "y": {"datum": 0, "axis": null}}},
        {"data": {"name": "cats"}, "transform": [{"filter": {"field": "k", "oneOf": ["A2","A3","M2","M3"]}}], "mark": {"type": "rule", "color": "#8C8C8C"},
         "encoding": {"x": {"field": "k", "type": "nominal", "bandPosition": 0, "axis": null}, "y": {"datum": 0, "axis": null}, "y2": {"datum": -16.3}}},
        {"data": {"name": "cats"}, "transform": [{"filter": {"field": "k", "oneOf": ["A1","M1"]}}], "mark": {"type": "rule", "color": "#8C8C8C"},
         "encoding": {"x": {"field": "k", "type": "nominal", "bandPosition": 0, "axis": null}, "y": {"datum": 0, "axis": null}, "y2": {"datum": -31}}},
        {"data": {"name": "cats"}, "transform": [{"filter": {"field": "k", "equal": "A3"}}], "mark": {"type": "rule", "color": "#8C8C8C"},
         "encoding": {"x": {"field": "k", "type": "nominal", "bandPosition": 1, "axis": null}, "y": {"datum": 0, "axis": null}, "y2": {"datum": -31}}},
        {"data": {"name": "cats"}, "transform": [{"filter": {"field": "k", "equal": "M1"}}], "mark": {"type": "rule", "color": "#8C8C8C"},
         "encoding": {"x": {"field": "k", "type": "nominal", "bandPosition": 0, "axis": null}, "y": {"datum": 0, "axis": null}, "y2": {"datum": 120}}},
        {"data": {"name": "cats"}, "mark": {"type": "text", "baseline": "middle", "font": "Liberation Sans", "fontSize": 12.4, "color": "#000000"},
         "encoding": {"x": {"field": "k", "type": "nominal", "axis": null}, "y": {"datum": -10.5, "axis": null}, "text": {"field": "tip"}}},
        {"data": {"name": "cats"}, "transform": [{"filter": {"field": "k", "oneOf": ["A2","M2"]}}], "mark": {"type": "text", "baseline": "middle", "font": "Liberation Sans", "fontSize": 12.4, "color": "#000000"},
         "encoding": {"x": {"field": "k", "type": "nominal", "axis": null}, "y": {"datum": -26.9, "axis": null}, "text": {"field": "ay"}}},
        {"data": {"values": [{"t": "Performans Oranı (%)"}]}, "mark": {"type": "text", "align": "center", "baseline": "middle", "font": "Liberation Sans", "fontWeight": "bold", "fontSize": 17, "color": "#000000"},
         "encoding": {"y": {"datum": 134.5, "axis": null}, "text": {"field": "t"}}}
      ]},
     {"width": 450, "height": 46,
      "data": {"values": [{"t": "Şekil 13. Aylık ortalama performans oranları"}]},
      "mark": {"type": "text", "align": "center", "baseline": "middle", "font": "Liberation Serif", "fontSize": 17.6, "color": "#000000"},
      "encoding": {"text": {"field": "t"}}},
     {"width": 450, "height": 80,
      "data": {"values": [{"t": "5.    Sonuçlar"}]},
      "mark": {"type": "text", "align": "center", "baseline": "middle", "font": "Liberation Serif", "fontWeight": "bold", "fontSize": 21.5, "color": "#000000"},
      "encoding": {"text": {"field": "t"}}},
     {"width": 450, "height": 423,
      "data": {"values": [
        {"i":0,"t":"Fotovoltaik güç sistemlerinin verimini ve kapasite faktörünü"},
        {"i":1,"t":"etkileyen en önemli parçası güneş panelleridir. Ticari olarak"},
        {"i":2,"t":"üretilen güneş panellerinin, enerji dönüşüm verimlerinin"},
        {"i":3,"t":"düşük olması, panel çeşitlerinin performans analizinin"},
        {"i":4,"t":"önemini arttırmaktadır. Bu çalışmada IEC 61724 standardına"},
        {"i":5,"t":"göre üç farklı güneş paneli dizisinin performans analizi,"},
        {"i":6,"t":"üretilen enerji, kapasite faktörü, günlük sistem verimi ve"},
        {"i":7,"t":"performans oranı gibi parametrelere göre Kocaeli Üniversitesi"},
        {"i":8,"t":"BAP tarafından desteklenen 2012/24 nolu proje kapsamında"},
        {"i":9,"t":"Kocaeli Üniversitesi Umuttepe Yerleşkesinde yapılmıştır."},
        {"i":10,"t":"Tüm değerlerin normalize edilerek ulaşılan sonuçlara göre;"},
        {"i":11,"t":"ince film tipi kadmiyum tellür güneş panellerinin polikristal ve"},
        {"i":12,"t":"monokristal sistemlere göre sırasıyla %11.2 ve %14.8 daha"},
        {"i":13,"t":"fazla enerji ürettiği belirlenmiştir. Mayıs ayı güneş ışınımı"},
        {"i":14,"t":"değerleri Aralık ayından daha iyi olduğu için mayıs ayı"},
        {"i":15,"t":"kapasite faktörleri daha yüksektir. Alan verimlerine"},
        {"i":16,"t":"bakıldığında ise en ideal güneş paneli polikristal olup, alan"},
        {"i":17,"t":"kısıtlaması olmayan uygulamalarda kadmiyum tellür güneş"},
        {"i":18,"t":"paneli seçilerek daha yüksek performans oranları elde"},
        {"i":19,"t":"edilebilir."}]},
      "mark": {"type": "text", "align": "left", "baseline": "middle", "font": "Liberation Serif", "fontSize": 17.6, "color": "#000000"},
      "encoding": {
        "x": {"datum": 0, "type": "quantitative", "scale": {"domain": [0, 1]}, "axis": null},
        "y": {"field": "i", "type": "quantitative", "scale": {"domain": [-0.143, 20.0], "reverse": true, "nice": false, "zero": false}, "axis": null},
        "text": {"field": "t"}}}
   ], "spacing": 0, "bounds": "flush",
   "resolve": {"scale": {"color": "independent", "xOffset": "independent", "shape": "independent", "stroke": "independent"}, "legend": {"color": "independent", "shape": "independent", "stroke": "independent"}}}
 ], "spacing": 53,
 "resolve": {"scale": {"color": "independent", "xOffset": "independent", "shape": "independent", "stroke": "independent"}, "legend": {"color": "independent", "shape": "independent", "stroke": "independent"}}},
 {"width": 955, "height": 87,
  "data": {"values": [{"t": "99"}]},
  "mark": {"type": "text", "align": "center", "baseline": "middle", "font": "Liberation Serif", "fontSize": 18, "color": "#000000"},
  "encoding": {
    "y": {"datum": 0, "type": "quantitative", "scale": {"domain": [-0.885, 0.115], "reverse": true, "nice": false, "zero": false}, "axis": null},
    "text": {"field": "t"}}}
]
}
